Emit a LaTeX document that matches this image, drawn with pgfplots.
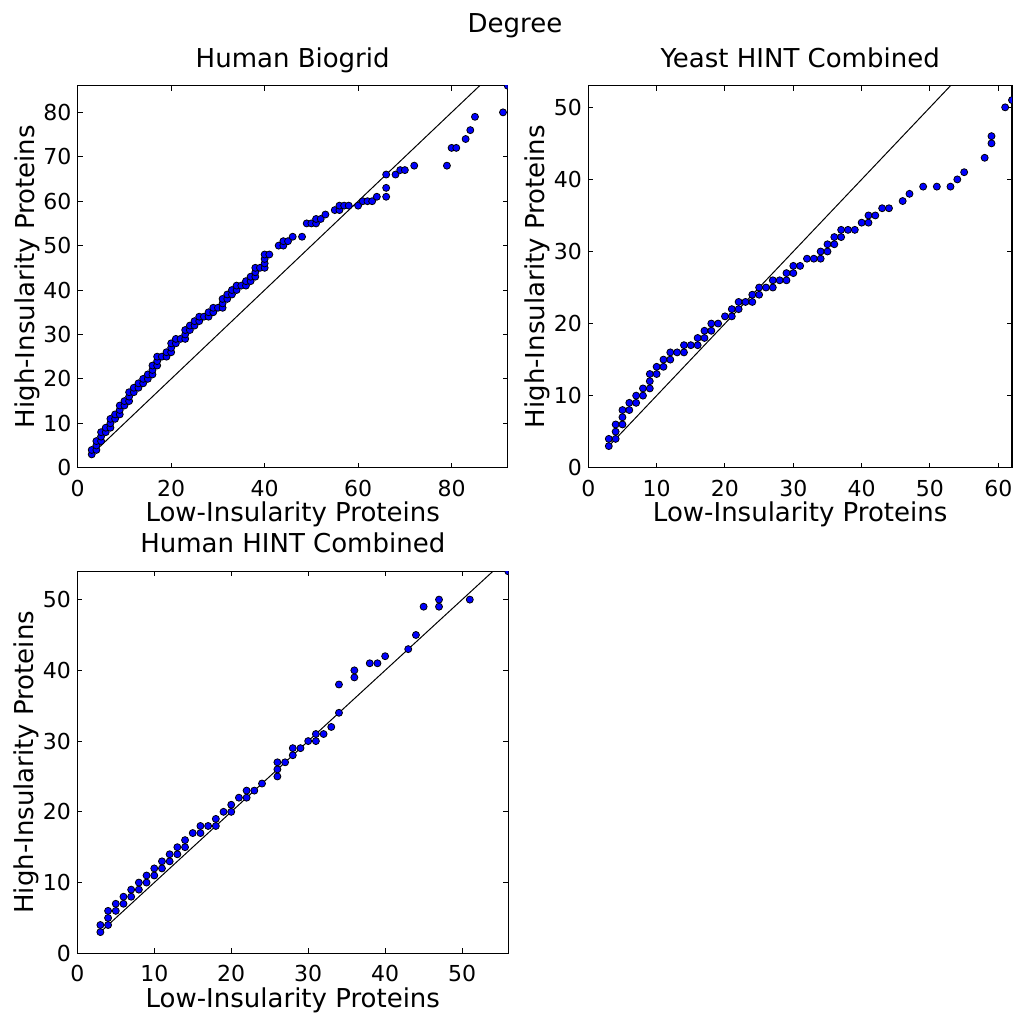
\documentclass[border=0pt]{standalone}
\usepackage{fontspec}
\setmainfont{DejaVu Sans}
\usepackage{pgfplots}
\pgfplotsset{compat=1.18}
\pgfplotsset{
  myax/.style={
    scale only axis, height=191pt, xmin=0, ymin=0,
    tick align=inside, major tick length=2.5pt,
    axis line style={line width=0.6pt, black},
    tick style={black, line width=0.5pt},
    title style={font=\fontsize{13}{15}\selectfont, at={(0.5,1)}, anchor=base, yshift=3.35pt},
    label style={font=\fontsize{13}{15}\selectfont},
    xlabel style={at={(axis description cs:0.5,0)}, anchor=base, yshift=-27pt},
    ticklabel style={font=\fontsize{11}{13}\selectfont},
    xticklabel style={anchor=base, yshift=-14.15pt},
    yticklabel style={anchor=east, inner sep=0pt, xshift=-3pt},
    /pgf/number format/assume math mode=true,
    clip marker paths=true,
    xlabel={Low-Insularity Proteins},
    ylabel={High-Insularity Proteins},
  },
  dots/.style={only marks, mark=*, mark size=1.75pt, mark options={fill=blue, draw=black, line width=0.4pt}},
  diag/.style={black, line width=0.5pt, forget plot},
}
\begin{document}
\begin{tikzpicture}
\path[use as bounding box] (0,0) rectangle (506.5pt,-506.5pt);
\node[font=\fontsize{13}{15}\selectfont, anchor=base] at (257.5pt,-16pt) {Degree};

% Human Biogrid
\begin{axis}[myax, at={(38.85pt,-233.85pt)}, anchor=south west,
  width=215pt, xmax=92, ymax=86,
  xtick={0,20,40,60,80}, ytick={0,10,...,80},
  title={Human Biogrid},
  ylabel style={at={(axis description cs:-0.1016,0.5)}, anchor=base}]
\addplot[diag] coordinates {(3,3) (100,100)};
\addplot[dots] coordinates {
(3,3)(3,4)(4,4)(4,5)(4,6)(5,6)(5,7)(5,8)(6,8)(6,9)(7,9)(7,10)(7,11)(8,11)(8,12)(9,12)(9,13)(9,14)(10,14)(10,15)
(11,15)(11,16)(11,17)(12,17)(12,18)(13,18)(13,19)(14,19)(14,20)(15,20)(15,21)(16,21)(16,22)(16,23)(17,23)(17,24)(17,25)
(18,25)(19,25)(19,26)(20,26)(20,27)(20,28)(21,28)(21,29)(22,29)(23,29)(23,30)(23,31)(24,31)(24,32)(25,32)(25,33)
(26,33)(26,34)(27,34)(28,34)(28,35)(29,35)(29,36)(30,36)(31,36)(31,37)(31,38)(32,38)(32,39)(33,39)(33,40)(34,40)
(34,41)(35,41)(36,41)(36,42)(37,42)(37,43)(38,43)(38,44)(38,45)(39,45)(40,45)(40,46)(40,47)(40,48)(41,48)
(43,50)(44,50)(44,51)(45,51)(46,52)(48,52)(49,55)(50,55)(51,55)(51,56)(52,56)(53,57)(55,58)(56,58)(56,59)(57,59)
(58,59)(60,59)(61,60)(62,60)(63,60)(64,61)(66,61)(66,63)(66,66)(68,66)(69,67)(70,67)(72,68)(79,68)(80,72)(81,72)
(83,74)(84,76)(85,79)(91,80)(92,86)};
\end{axis}

% Yeast HINT Combined
\begin{axis}[myax, at={(294.15pt,-233.85pt)}, anchor=south west,
  width=211.85pt, xmax=62, ymax=53,
  xtick={0,10,...,60}, ytick={0,10,...,50},
  title={Yeast HINT Combined},
  ylabel style={at={(axis description cs:-0.1031,0.5)}, anchor=base}]
\addplot[diag] coordinates {(3,3) (100,100)};
\addplot[dots] coordinates {
(3,3)(3,4)(4,4)(4,5)(4,6)(5,6)(5,7)(5,8)(6,8)(6,9)(7,9)(7,10)(8,10)(8,11)(9,11)(9,12)(9,13)(10,13)(10,14)
(11,14)(11,15)(12,15)(12,16)(13,16)(14,16)(14,17)(15,17)(16,17)(16,18)(17,18)(17,19)(18,19)(18,20)(19,20)
(20,21)(21,21)(21,22)(22,22)(22,23)(23,23)(24,23)(24,24)(25,24)(25,25)(26,25)(27,25)(27,26)(28,26)(29,26)
(29,27)(30,27)(30,28)(31,28)(32,29)(33,29)(34,29)(34,30)(35,30)(35,31)(36,31)(36,32)(37,32)(37,33)(38,33)
(39,33)(40,34)(41,34)(41,35)(42,35)(43,36)(44,36)(46,37)(47,38)(49,39)(51,39)(53,39)(54,40)(55,41)(58,43)
(59,45)(59,46)(61,50)(62,51)};
\end{axis}

% Human HINT Combined
\begin{axis}[myax, at={(38.65pt,-476.65pt)}, anchor=south west,
  width=215.5pt, xmax=56, ymax=54,
  xtick={0,10,...,50}, ytick={0,10,...,50},
  title={Human HINT Combined},
  ylabel style={at={(axis description cs:-0.1014,0.5)}, anchor=base}]
\addplot[diag] coordinates {(3,3) (100,100)};
\addplot[dots] coordinates {
(3,3)(3,4)(4,4)(4,5)(4,6)(5,6)(5,7)(6,7)(6,8)(7,8)(7,9)(8,9)(8,10)(9,10)(9,11)(10,11)(10,12)(11,12)(11,13)
(12,13)(12,14)(13,14)(13,15)(14,15)(14,16)(15,17)(16,17)(16,18)(17,18)(18,18)(18,19)(19,20)(20,20)(20,21)
(21,22)(22,22)(22,23)(23,23)(24,24)(26,25)(26,26)(26,27)(27,27)(28,28)(28,29)(29,29)(30,30)(31,30)(31,31)
(32,31)(33,32)(34,34)(34,38)(36,39)(36,40)(38,41)(39,41)(40,42)(43,43)(44,45)(45,49)(47,49)(47,50)(51,50)(56,54)};
\end{axis}
\end{tikzpicture}
\end{document}
